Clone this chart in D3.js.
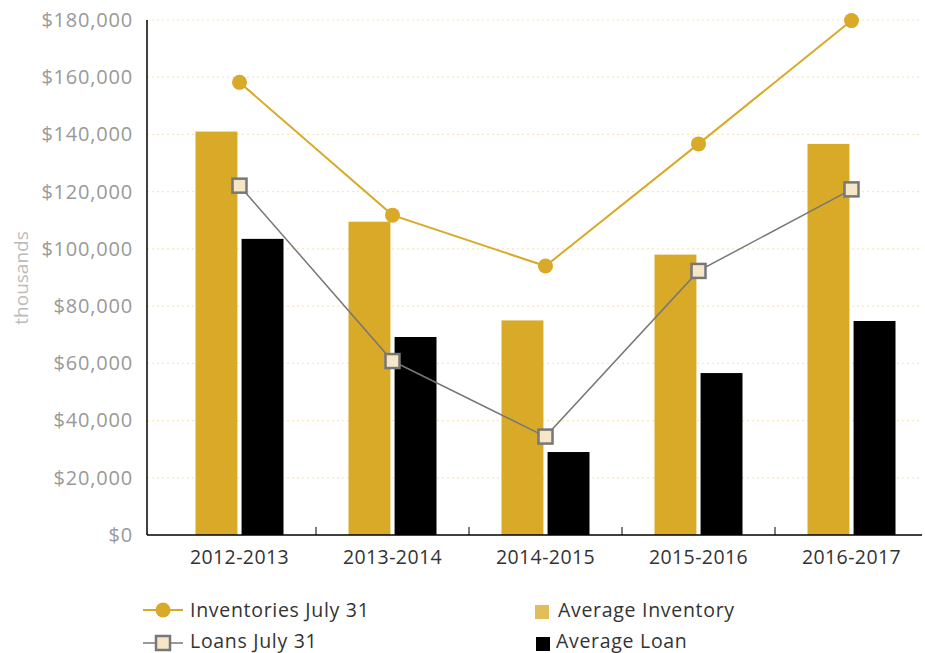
<!DOCTYPE html>
<html>
<head>
<meta charset="utf-8">
<script src="https://cdn.jsdelivr.net/npm/d3@7"></script>
<style>
  body { margin: 0; background: #fff; }
  svg text { font-family: "Open Sans", Lato, sans-serif; }
</style>
</head>
<body>
<div id="chart"></div>
<script>
// chart data
const years = ["2012-2013", "2013-2014", "2014-2015", "2015-2016", "2016-2017"]
const avgInventory = [141000, 109500, 75000, 98000, 136700]
const avgLoan = [103500, 69200, 29000, 56600, 74800]
const invJuly31 = [158200, 111800, 94000, 136700, 179800]
const loansJuly31 = [122100, 60800, 34400, 92300, 120800]
const yTicks = [0, 20000, 40000, 60000, 80000, 100000, 120000, 140000, 160000, 180000]

const gold = "#D9A928"
const W = 925, H = 653
const margin = {top: 20, left: 147, bottom: 535, right: 922}

const svg = d3.select("#chart").append("svg").attr("width", W).attr("height", H)

const x = d3.scaleBand().domain(years).range([163, 928])
const y = d3.scaleLinear().domain([0, 180000]).range([margin.bottom, margin.top])
const sub = d3.scaleBand().domain(["inv", "loan"]).range([-44, 44]).paddingInner(0.09)
const cx = d => x(d) + x.bandwidth() / 2

// grid lines
svg.append("g").selectAll("line").data(yTicks.slice(1)).join("line")
  .attr("x1", margin.left).attr("x2", 920)
  .attr("y1", d => y(d)).attr("y2", d => y(d))
  .attr("stroke", "#F6E6C0").attr("stroke-width", 1.2).attr("stroke-dasharray", "2,3")

// y labels
const yAxis = svg.append("g").attr("transform", `translate(${margin.left},0)`)
  .call(d3.axisLeft(y).tickValues(yTicks).tickSize(0).tickPadding(14)
    .tickFormat(d => "$" + d3.format(",")(d)))
yAxis.select(".domain").remove()
yAxis.selectAll("text").attr("fill", "#999").style("font-size", "20px")
  .style("letter-spacing", "0.8px").style("font-family", "'Open Sans', sans-serif")

svg.append("text").attr("transform", "translate(28,278) rotate(-90)")
  .attr("text-anchor", "middle").attr("fill", "#bbb").style("font-size", "19px")
  .text("thousands")

// bars
const groups = svg.append("g").selectAll("g").data(years).join("g")
  .attr("transform", d => `translate(${cx(d)},0)`)
groups.append("rect")
  .attr("x", sub("inv")).attr("width", sub.bandwidth())
  .attr("y", (d, i) => y(avgInventory[i])).attr("height", (d, i) => y(0) - y(avgInventory[i]))
  .attr("fill", gold)
groups.append("rect")
  .attr("x", sub("loan")).attr("width", sub.bandwidth())
  .attr("y", (d, i) => y(avgLoan[i])).attr("height", (d, i) => y(0) - y(avgLoan[i]))
  .attr("fill", "#000")

// axes lines
svg.append("line").attr("x1", margin.left).attr("x2", margin.left)
  .attr("y1", margin.top).attr("y2", margin.bottom).attr("stroke", "#000").attr("stroke-width", 1.5)
const xAxis = svg.append("g").attr("transform", `translate(0,${margin.bottom})`)
  .call(d3.axisBottom(x).tickSize(0).tickPadding(15))
xAxis.select(".domain").remove()
xAxis.selectAll("text").attr("fill", "#333").style("font-size", "19.5px")
  .style("letter-spacing", "0.4px").style("font-family", "'Open Sans', sans-serif")
svg.append("line").attr("x1", margin.left).attr("x2", margin.right)
  .attr("y1", margin.bottom).attr("y2", margin.bottom).attr("stroke", "#000").attr("stroke-width", 1.5)
svg.append("g").selectAll("line").data(years).join("line")
  .attr("x1", d => x(d) + x.bandwidth()).attr("x2", d => x(d) + x.bandwidth())
  .attr("y1", margin.bottom).attr("y2", margin.bottom - 8)
  .attr("stroke", "#000").attr("stroke-width", 1)

// lines
const line = d3.line().x(d => cx(d[0])).y(d => y(d[1]))
svg.append("path").datum(years.map((d, i) => [d, invJuly31[i]]))
  .attr("d", line).attr("fill", "none").attr("stroke", gold).attr("stroke-width", 2)
svg.append("path").datum(years.map((d, i) => [d, loansJuly31[i]]))
  .attr("d", line).attr("fill", "none").attr("stroke", "#777").attr("stroke-width", 1.5)

svg.append("g").selectAll("circle").data(years).join("circle")
  .attr("cx", d => cx(d)).attr("cy", (d, i) => y(invJuly31[i]))
  .attr("r", 7.5).attr("fill", gold)
svg.append("g").selectAll("rect").data(years).join("rect")
  .attr("x", d => cx(d) - 7).attr("y", (d, i) => y(loansJuly31[i]) - 7)
  .attr("width", 14).attr("height", 14)
  .attr("fill", "#F5E6C8").attr("stroke", "#777").attr("stroke-width", 2.5)

// legend
const lg = svg.append("g").style("font-size", "19.5px").style("letter-spacing", "0.7px").attr("fill", "#333")
lg.append("line").attr("x1", 143).attr("x2", 183).attr("y1", 610).attr("y2", 610)
  .attr("stroke", gold).attr("stroke-width", 2)
lg.append("circle").attr("cx", 163).attr("cy", 610).attr("r", 7.5).attr("fill", gold)
lg.append("text").attr("x", 190).attr("y", 617).text("Inventories July 31")

lg.append("line").attr("x1", 143).attr("x2", 183).attr("y1", 643).attr("y2", 643)
  .attr("stroke", "#777").attr("stroke-width", 1.5)
lg.append("rect").attr("x", 156).attr("y", 636).attr("width", 14).attr("height", 14)
  .attr("fill", "#F5E6C8").attr("stroke", "#777").attr("stroke-width", 2.5)
lg.append("text").attr("x", 190).attr("y", 648).text("Loans July 31")

lg.append("rect").attr("x", 535).attr("y", 605).attr("width", 14).attr("height", 14)
  .attr("fill", "#E3BD5C")
lg.append("text").attr("x", 558).attr("y", 617).text("Average Inventory")
lg.append("rect").attr("x", 536).attr("y", 637).attr("width", 14).attr("height", 14)
  .attr("fill", "#000")
lg.append("text").attr("x", 556).attr("y", 648).text("Average Loan")
</script>
</body>
</html>
